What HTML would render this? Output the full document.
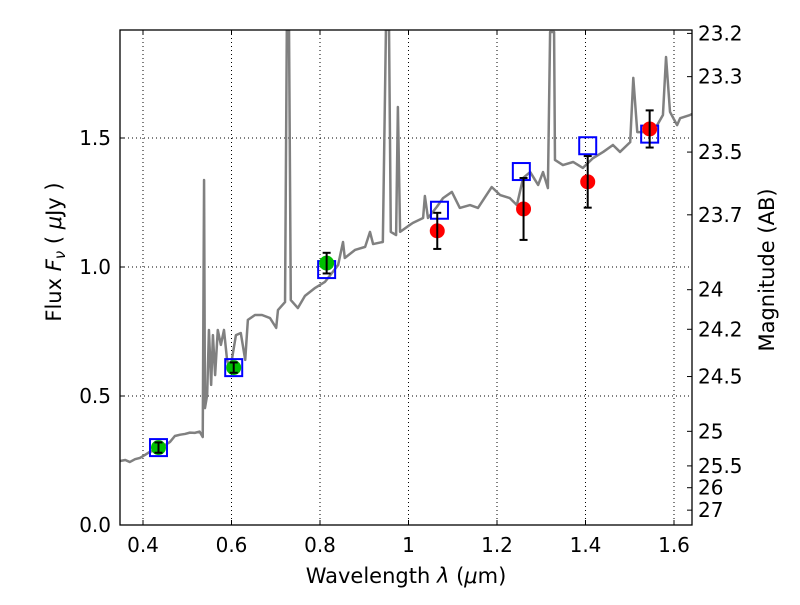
<!DOCTYPE html>
<html><head><meta charset="utf-8"><style>
body{margin:0;background:#fff}
svg{font-family:"DejaVu Sans","Liberation Sans",sans-serif}
</style></head><body>
<svg id="c" width="800" height="600"></svg>
<script>
const specX=[0.348,0.360,0.370,0.382,0.393,0.405,0.415,0.427,0.438,0.450,0.461,0.472,0.484,0.495,0.506,0.517,0.528,0.535,0.538,0.540,0.545,0.549,0.554,0.558,0.563,0.569,0.576,0.583,0.590,0.597,0.610,0.621,0.631,0.637,0.653,0.669,0.687,0.701,0.705,0.721,0.725,0.730,0.734,0.750,0.766,0.789,0.811,0.829,0.841,0.852,0.856,0.879,0.902,0.913,0.920,0.942,0.949,0.956,0.960,0.972,0.976,0.981,1.003,1.010,1.033,1.037,1.044,1.064,1.078,1.098,1.116,1.139,1.157,1.188,1.207,1.229,1.245,1.259,1.275,1.293,1.304,1.315,1.320,1.329,1.331,1.349,1.372,1.394,1.417,1.440,1.462,1.478,1.501,1.508,1.517,1.539,1.562,1.575,1.582,1.591,1.607,1.614,1.636,1.641];
const specF=[0.248,0.252,0.244,0.255,0.260,0.272,0.283,0.290,0.298,0.310,0.322,0.345,0.350,0.353,0.358,0.357,0.362,0.341,1.337,0.453,0.504,0.756,0.543,0.736,0.581,0.756,0.698,0.756,0.640,0.601,0.736,0.744,0.640,0.795,0.814,0.814,0.802,0.764,0.833,0.864,1.92,1.92,0.872,0.841,0.888,0.919,0.942,0.981,1.008,1.097,1.035,1.066,1.078,1.136,1.089,1.097,1.92,1.92,1.136,1.124,1.62,1.136,1.163,1.171,1.190,1.275,1.190,1.233,1.267,1.291,1.229,1.240,1.229,1.310,1.279,1.267,1.240,1.345,1.368,1.318,1.368,1.306,1.911,1.911,1.415,1.395,1.407,1.384,1.422,1.446,1.473,1.446,1.484,1.733,1.523,1.523,1.550,1.589,1.814,1.601,1.550,1.577,1.589,1.593];
const greenX=[0.435,0.605,0.815], greenF=[0.30,0.61,1.015], greenE=[0.02,0.02,0.04];
const redX=[1.065,1.26,1.405,1.545], redF=[1.14,1.225,1.33,1.535], redE=[0.07,0.12,0.10,0.072];
const sqX=[0.435,0.605,0.815,1.07,1.255,1.405,1.545], sqF=[0.30,0.61,0.99,1.22,1.37,1.47,1.515];
const xTicks=[0.4,0.6,0.8,1,1.2,1.4,1.6], xLabels=["0.4","0.6","0.8","1","1.2","1.4","1.6"];
const yTicks=[0,0.5,1,1.5], yLabels=["0.0","0.5","1.0","1.5"];
const magTicks=[23.2,23.3,23.5,23.7,24,24.2,24.5,25,25.5,26,27];

const L=120,R=692,T=30,B=525;
const sx=v=>143+(v-0.4)*442.5, sy=v=>525-v*258;
const NS="http://www.w3.org/2000/svg", svg=document.getElementById('c');
function mk(t,a,p){const e=document.createElementNS(NS,t);for(const k in a)e.setAttribute(k,a[k]);(p||svg).appendChild(e);return e;}
const clip=mk('clipPath',{id:'pc'});mk('rect',{x:L,y:T,width:R-L,height:B-T},clip);
xTicks.forEach((v,i)=>{const g=mk('line',{x1:sx(v),x2:sx(v),y1:T,y2:B,stroke:'#000','stroke-width':1,'stroke-dasharray':'1,3'});

mk('line',{x1:sx(v),x2:sx(v),y1:B,y2:B-5,stroke:'#000'});mk('line',{x1:sx(v),x2:sx(v),y1:T,y2:T+5,stroke:'#000'});
const t=mk('text',{x:sx(v),y:B+27,'font-size':20,'text-anchor':'middle'});t.textContent=xLabels[i];
});
yTicks.forEach((v,i)=>{const g=mk('line',{x1:L,x2:R,y1:sy(v),y2:sy(v),stroke:'#000','stroke-width':1,'stroke-dasharray':'1,3'});

mk('line',{x1:L,x2:L+5,y1:sy(v),y2:sy(v),stroke:'#000'});
const t=mk('text',{x:L-9,y:sy(v)+7,'font-size':20,'text-anchor':'end'});t.textContent=yLabels[i];
});
magTicks.forEach(m=>{const f=Math.pow(10,(23.9-m)/2.5),y=sy(f);
mk('line',{x1:R,x2:R-5,y1:y,y2:y,stroke:'#000'});
const t=mk('text',{x:R+6,y:y+7,'font-size':20});t.textContent=String(m);
});
const g=mk('g',{'clip-path':'url(#pc)'});
const p=mk('polyline',{points:specX.map((x,i)=>sx(x)+','+sy(specF[i])).join(' '),fill:'none',stroke:'#808080','stroke-width':2.5,'stroke-linejoin':'round'},g);

sqX.forEach((x,i)=>{const r=mk('rect',{x:sx(x)-8.5,y:sy(sqF[i])-8.5,width:17,height:17,fill:'none',stroke:'#0000ff','stroke-width':2},g);
});
function pts(X,F,E,col,name){X.forEach((x,i)=>{const c=mk('circle',{cx:sx(x),cy:sy(F[i]),r:7.5,fill:col},g);

const cx=sx(x),y1=sy(F[i]+E[i]),y2=sy(F[i]-E[i]);
mk('line',{x1:cx,x2:cx,y1:y1,y2:y2,stroke:'#000','stroke-width':2},g);
mk('line',{x1:cx-4,x2:cx+4,y1:y1,y2:y1,stroke:'#000','stroke-width':2},g);
mk('line',{x1:cx-4,x2:cx+4,y1:y2,y2:y2,stroke:'#000','stroke-width':2},g);});}
pts(greenX,greenF,greenE,'#00bf00','hst-data-point');
pts(redX,redF,redE,'#ff0000','ir-data-point');
const fr=mk('rect',{x:L,y:T,width:R-L,height:B-T,fill:'none',stroke:'#000','stroke-width':1.3});

let t=mk('text',{x:406,y:583,'font-size':21,'text-anchor':'middle','xml:space':'preserve'});t.innerHTML='Wavelength  <tspan font-style="italic">λ</tspan> (<tspan font-style="italic">μ</tspan>m)';

t=mk('text',{x:0,y:0,'font-size':21,'text-anchor':'middle','xml:space':'preserve',transform:'translate(61,252) rotate(-90)'});t.innerHTML='Flux  <tspan font-style="italic">F</tspan><tspan font-style="italic" font-size="15" dy="4">ν</tspan><tspan dy="-4">  (  </tspan><tspan font-style="italic">μ</tspan>Jy )';

t=mk('text',{x:0,y:0,'font-size':21,'text-anchor':'middle',transform:'translate(774,270) rotate(-90)'});t.textContent='Magnitude (AB)';

</script>
</body></html>
